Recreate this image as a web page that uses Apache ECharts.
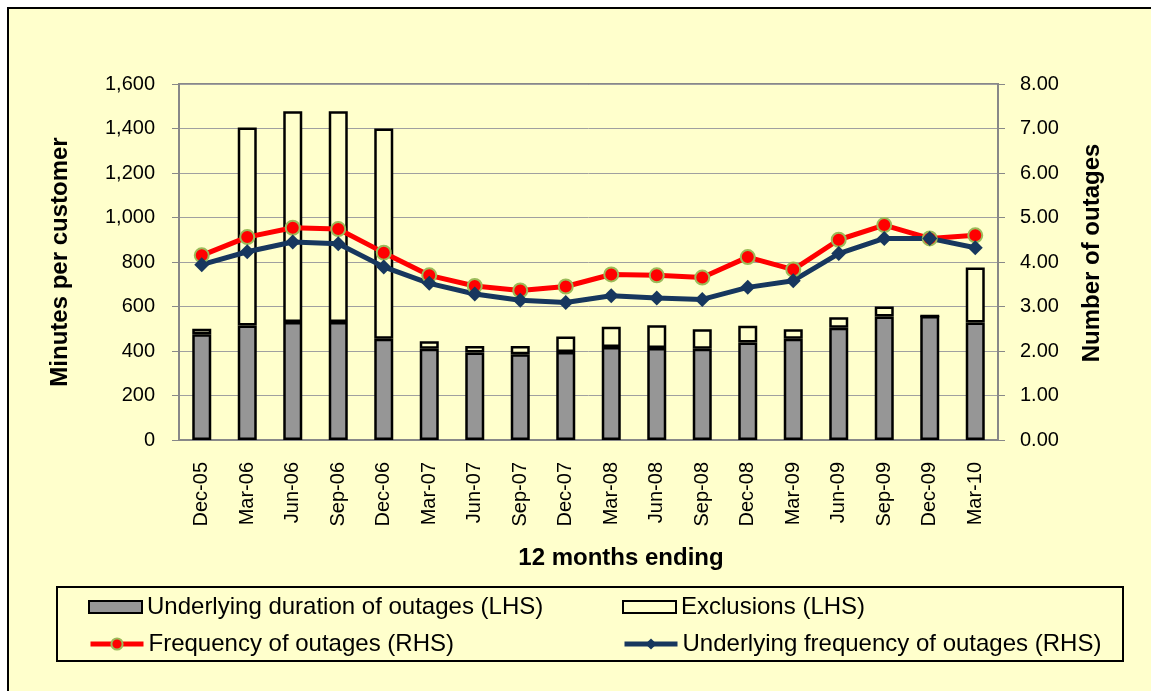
<!DOCTYPE html>
<html>
<head>
<meta charset="utf-8">
<script src="https://cdn.jsdelivr.net/npm/echarts@6/dist/echarts.min.js"></script>
<style>
  html, body { margin: 0; padding: 0; background: #fff; }
  #chart { position: absolute; left: 0; top: 0; width: 1151px; height: 691px; }
</style>
</head>
<body>
<div id="chart"></div>
<script>
var categories = ['Dec-05', 'Mar-06', 'Jun-06', 'Sep-06', 'Dec-06', 'Mar-07', 'Jun-07', 'Sep-07', 'Dec-07',
    'Mar-08', 'Jun-08', 'Sep-08', 'Dec-08', 'Mar-09', 'Jun-09', 'Sep-09', 'Dec-09', 'Mar-10'];

// minutes per customer (LHS)
var underlyingDuration = [475, 515, 530, 530, 455, 410, 393, 385, 395, 418, 414, 410, 438, 455, 505, 555, 557, 528];
var exclusions = [25, 890, 947, 947, 945, 34, 30, 38, 70, 91, 102, 88, 75, 43, 47, 45, 0, 247];

// number of outages (RHS)
var frequency = [4.15, 4.56, 4.77, 4.74, 4.21, 3.70, 3.46, 3.36, 3.45, 3.72, 3.70, 3.65, 4.11, 3.83, 4.50, 4.83, 4.53, 4.60];
var underlyingFrequency = [3.94, 4.23, 4.45, 4.41, 3.89, 3.52, 3.28, 3.14, 3.09, 3.24, 3.19, 3.16, 3.43, 3.58, 4.19, 4.53, 4.53, 4.32];

var seriesNames = ['Underlying duration of outages (LHS)', 'Exclusions (LHS)',
    'Frequency of outages (RHS)', 'Underlying frequency of outages (RHS)'];

var FONT = 'Liberation Sans, Arial, sans-serif';
var legendText = {fontFamily: FONT, fontSize: 24, color: '#000'};
var tickText = {fontFamily: FONT, fontSize: 20, color: '#000'};

function legendAt(name, left, top, icon) {
    var lg = {
        data: [{name: name, icon: icon}], left: left, top: top, orient: 'horizontal',
        itemWidth: 53, itemHeight: 12, itemGap: 5, padding: 0,
        selectedMode: false, textStyle: legendText
    };
    if (!icon) {
        lg.data = [name];
        lg.itemHeight = 14;
        lg.lineStyle = {width: 5};
    }
    return lg;
}

function title(text, x, y, rot) {
    return {
        type: 'text', x: x, y: y, rotation: rot, z: 5,
        style: {
            text: text, fill: '#000', align: 'center', verticalAlign: 'middle',
            font: 'bold 24px ' + FONT
        }
    };
}

var chart = echarts.init(document.getElementById('chart'));
chart.setOption({
    backgroundColor: '#ffffff',
    animation: false,
    graphic: [{
        type: 'rect', z: -10,
        shape: {x: 8, y: 8, width: 1160, height: 700},
        style: {fill: '#FFFFCC', stroke: '#000', lineWidth: 2}
    }, {
        type: 'rect', z: 1,
        shape: {x: 57, y: 587, width: 1066, height: 74},
        style: {fill: 'none', stroke: '#000', lineWidth: 2}
    },
        title('Minutes per customer', 60, 262, Math.PI / 2),
        title('Number of outages', 1092, 253, Math.PI / 2),
        title('12 months ending', 621, 558, 0)
    ],
    legend: [
        legendAt(seriesNames[0], 88, 595, 'rect'),
        legendAt(seriesNames[1], 622, 595, 'rect'),
        legendAt(seriesNames[2], 88, 632),
        legendAt(seriesNames[3], 622, 632)
    ],
    grid: {
        left: 179, right: 153, top: 84, bottom: 251,
        show: true, borderColor: '#888', borderWidth: 2, backgroundColor: 'transparent'
    },
    xAxis: {
        type: 'category',
        data: categories,
        axisLine: {lineStyle: {color: '#888', width: 2}},
        axisTick: {inside: true, length: 5, lineStyle: {color: '#888'}},
        axisLabel: Object.assign({rotate: 90, margin: 22, interval: 0}, tickText)
    },
    yAxis: [{
        type: 'value', min: 0, max: 1600, interval: 200,
        axisLine: {show: true, lineStyle: {color: '#888', width: 2}},
        axisTick: {show: true, length: 7, lineStyle: {color: '#888'}},
        axisLabel: Object.assign({
            margin: 24,
            formatter: function (v) { return v.toLocaleString('en-US'); }
        }, tickText),
        splitLine: {lineStyle: {color: '#A0A0A0', width: 1}}
    }, {
        type: 'value', min: 0, max: 8, interval: 1,
        axisLine: {show: true, lineStyle: {color: '#888', width: 2}},
        axisTick: {show: true, length: 7, lineStyle: {color: '#888'}},
        axisLabel: Object.assign({
            margin: 22,
            formatter: function (v) { return v.toFixed(2); }
        }, tickText),
        splitLine: {show: false}
    }],
    series: [{
        name: seriesNames[0],
        type: 'bar', stack: 'dur', barWidth: 19,
        itemStyle: {color: '#969696', borderColor: '#000', borderWidth: 2.5},
        data: underlyingDuration
    }, {
        name: seriesNames[1],
        type: 'bar', stack: 'dur', barWidth: 19,
        itemStyle: {color: '#FFFFCC', borderColor: '#000', borderWidth: 2.5},
        data: exclusions
    }, {
        name: seriesNames[2],
        type: 'line', yAxisIndex: 1,
        symbol: 'circle', symbolSize: 14,
        lineStyle: {color: '#FF0000', width: 5},
        itemStyle: {color: '#FF0000', borderColor: '#9BBB59', borderWidth: 2},
        data: frequency
    }, {
        name: seriesNames[3],
        type: 'line', yAxisIndex: 1,
        symbol: 'diamond', symbolSize: 15,
        lineStyle: {color: '#17375E', width: 5},
        itemStyle: {color: '#17375E'},
        data: underlyingFrequency
    }]
});
</script>
</body>
</html>
